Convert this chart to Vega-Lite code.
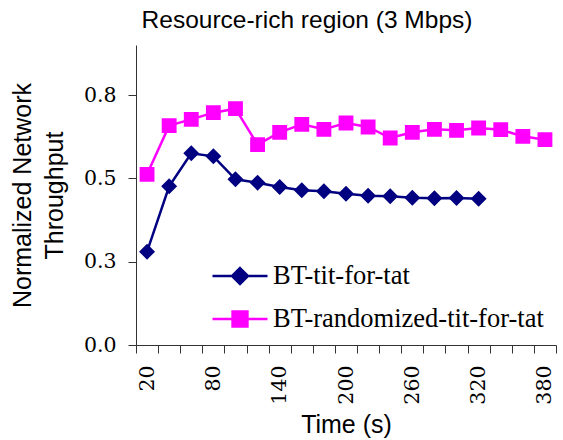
{
  "$schema": "https://vega.github.io/schema/vega-lite/v6.json",
  "width": 420,
  "height": 300,
  "autosize": {"type": "none"},
  "padding": {"left": 136, "top": 45, "right": 7, "bottom": 95},
  "background": "white",
  "title": {
    "text": "Resource-rich region (3 Mbps)",
    "font": "Liberation Sans",
    "fontSize": 24.5,
    "fontWeight": "normal",
    "color": "black",
    "anchor": "middle",
    "frame": "group",
    "dx": -39,
    "offset": 12
  },
  "data": {
    "values": [
      {"t": 20, "v": 0.28, "s": "BT-tit-for-tat"},
      {"t": 40, "v": 0.476, "s": "BT-tit-for-tat"},
      {"t": 60, "v": 0.575, "s": "BT-tit-for-tat"},
      {"t": 80, "v": 0.566, "s": "BT-tit-for-tat"},
      {"t": 100, "v": 0.497, "s": "BT-tit-for-tat"},
      {"t": 120, "v": 0.487, "s": "BT-tit-for-tat"},
      {"t": 140, "v": 0.474, "s": "BT-tit-for-tat"},
      {"t": 160, "v": 0.464, "s": "BT-tit-for-tat"},
      {"t": 180, "v": 0.461, "s": "BT-tit-for-tat"},
      {"t": 200, "v": 0.454, "s": "BT-tit-for-tat"},
      {"t": 220, "v": 0.448, "s": "BT-tit-for-tat"},
      {"t": 240, "v": 0.446, "s": "BT-tit-for-tat"},
      {"t": 260, "v": 0.442, "s": "BT-tit-for-tat"},
      {"t": 280, "v": 0.44, "s": "BT-tit-for-tat"},
      {"t": 300, "v": 0.441, "s": "BT-tit-for-tat"},
      {"t": 320, "v": 0.439, "s": "BT-tit-for-tat"},
      {"t": 20, "v": 0.512, "s": "BT-randomized-tit-for-tat"},
      {"t": 40, "v": 0.658, "s": "BT-randomized-tit-for-tat"},
      {"t": 60, "v": 0.677, "s": "BT-randomized-tit-for-tat"},
      {"t": 80, "v": 0.697, "s": "BT-randomized-tit-for-tat"},
      {"t": 100, "v": 0.709, "s": "BT-randomized-tit-for-tat"},
      {"t": 120, "v": 0.601, "s": "BT-randomized-tit-for-tat"},
      {"t": 140, "v": 0.638, "s": "BT-randomized-tit-for-tat"},
      {"t": 160, "v": 0.662, "s": "BT-randomized-tit-for-tat"},
      {"t": 180, "v": 0.647, "s": "BT-randomized-tit-for-tat"},
      {"t": 200, "v": 0.666, "s": "BT-randomized-tit-for-tat"},
      {"t": 220, "v": 0.654, "s": "BT-randomized-tit-for-tat"},
      {"t": 240, "v": 0.621, "s": "BT-randomized-tit-for-tat"},
      {"t": 260, "v": 0.638, "s": "BT-randomized-tit-for-tat"},
      {"t": 280, "v": 0.647, "s": "BT-randomized-tit-for-tat"},
      {"t": 300, "v": 0.644, "s": "BT-randomized-tit-for-tat"},
      {"t": 320, "v": 0.651, "s": "BT-randomized-tit-for-tat"},
      {"t": 340, "v": 0.646, "s": "BT-randomized-tit-for-tat"},
      {"t": 360, "v": 0.626, "s": "BT-randomized-tit-for-tat"},
      {"t": 380, "v": 0.616, "s": "BT-randomized-tit-for-tat"}
    ]
  },
  "encoding": {
    "x": {
      "field": "t",
      "type": "ordinal",
      "bandPosition": 0.5,
      "scale": {"type": "band", "paddingInner": 0, "paddingOuter": 0, "domain": [20,40,60,80,100,120,140,160,180,200,220,240,260,280,300,320,340,360,380]},
      "axis": {
        "title": "Time (s)",
        "titleFont": "Liberation Sans",
        "titleFontSize": 25,
        "titleFontWeight": "normal",
        "titleColor": "black",
        "titlePadding": 8,
        "labelFont": "DejaVu Serif",
        "labelFontSize": 20.5,
        "labelColor": "black",
        "labelAngle": 270,
        "labelPadding": 12,
        "labelOverlap": false,
        "labelExpr": "(datum.value - 20) % 60 === 0 ? datum.label : ''",
        "tickBand": "extent",
        "tickSize": 8,
        "tickColor": "#333333",
        "domainColor": "#333333",
        "grid": false
      }
    },
    "y": {
      "field": "v",
      "type": "quantitative",
      "scale": {"domain": [0, 0.9], "nice": false},
      "axis": {
        "title": ["Normalized Network", "Throughput"],
        "titleFont": "Liberation Sans",
        "titleFontSize": 25,
        "titleFontWeight": "normal",
        "titleColor": "black",
        "titleLineHeight": 32,
        "titlePadding": 16,
        "values": [0, 0.25, 0.5, 0.75],
        "format": ".1f",
        "labelFont": "DejaVu Serif",
        "labelFontSize": 20.5,
        "labelColor": "black",
        "labelPadding": 12,
        "tickSize": 8,
        "tickColor": "#333333",
        "domainColor": "#333333",
        "grid": false
      }
    },
    "color": {
      "field": "s",
      "type": "nominal",
      "scale": {"domain": ["BT-tit-for-tat", "BT-randomized-tit-for-tat"], "range": ["#000080", "#FF00FF"]},
      "legend": {
        "title": null,
        "orient": "bottom-right",
        "offset": 12,
        "rowPadding": -5,
        "labelFont": "Liberation Serif",
        "labelFontSize": 26.5,
        "labelColor": "black",
        "labelLimit": 400,
        "symbolSize": 3025,
        "symbolStrokeWidth": 2.5
      }
    }
  },
  "layer": [
    {
      "mark": {"type": "line", "strokeWidth": 2.5}
    },
    {
      "mark": {"type": "point", "filled": true, "opacity": 1, "size": 3025, "strokeWidth": 0},
      "encoding": {
        "shape": {
          "field": "s",
          "type": "nominal",
          "scale": {
            "domain": ["BT-tit-for-tat", "BT-randomized-tit-for-tat"],
            "range": ["M-1,0L1,0M0,-0.29L0.29,0L0,0.29L-0.29,0Z", "M-1,0L1,0M-0.27,-0.27L0.27,-0.27L0.27,0.27L-0.27,0.27Z"]
          },
          "legend": {
            "title": null,
            "orient": "bottom-right",
            "offset": 12,
            "rowPadding": -5,
            "labelFont": "Liberation Serif",
            "labelFontSize": 26.5,
            "labelColor": "black",
            "labelLimit": 400,
            "symbolSize": 3025,
            "symbolStrokeWidth": 2.5
          }
        }
      }
    }
  ],
  "config": {
    "view": {"stroke": null},
    "axis": {"domainWidth": 1, "tickWidth": 1}
  }
}
